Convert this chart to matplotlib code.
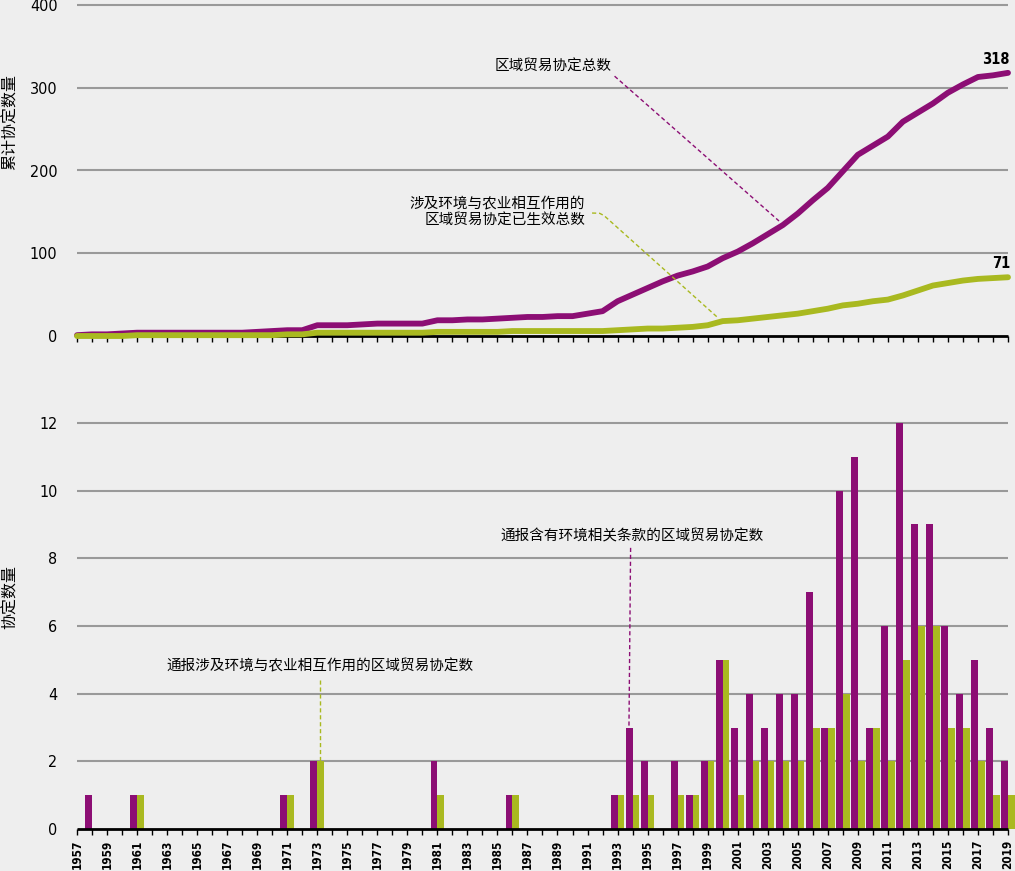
import matplotlib
matplotlib.use("Agg")
import matplotlib.pyplot as plt

plt.rcParams['font.family'] = ['Noto Sans CJK SC', 'DejaVu Sans']

years = list(range(1957, 2020))

# Cumulative totals (top chart)
total_rta = [1, 2, 2, 3, 4, 4, 4, 4, 4, 4, 4, 4, 5, 6, 7, 7, 13, 13, 13, 14,
             15, 15, 15, 15, 19, 19, 20, 20, 21, 22, 23, 23, 24, 24, 27, 30,
             42, 50, 58, 66, 73, 78, 84, 94, 102, 112, 123, 134, 148, 164,
             179, 199, 219, 230, 241, 259, 270, 281, 294, 304, 313, 315, 318]
agri_rta_cum = [0, 0, 0, 0, 1, 1, 1, 1, 1, 1, 1, 1, 1, 1, 2, 2, 4, 4, 4, 4,
                4, 4, 4, 4, 5, 5, 5, 5, 5, 6, 6, 6, 6, 6, 6, 6,
                7, 8, 9, 9, 10, 11, 13, 18, 19, 21, 23, 25, 27, 30,
                33, 37, 39, 42, 44, 49, 55, 61, 64, 67, 69, 70, 71]

# Annual counts (bottom chart)
env_rta = [0, 1, 0, 0, 1, 0, 0, 0, 0, 0, 0, 0, 0, 0, 1, 0, 2, 0, 0, 0,
           0, 0, 0, 0, 2, 0, 0, 0, 0, 1, 0, 0, 0, 0, 0, 0,
           1, 3, 2, 0, 2, 1, 2, 5, 3, 4, 3, 4, 4, 7,
           3, 10, 11, 3, 6, 12, 9, 9, 6, 4, 5, 3, 2]
agri_rta = [0, 0, 0, 0, 1, 0, 0, 0, 0, 0, 0, 0, 0, 0, 1, 0, 2, 0, 0, 0,
            0, 0, 0, 0, 1, 0, 0, 0, 0, 1, 0, 0, 0, 0, 0, 0,
            1, 1, 1, 0, 1, 1, 2, 5, 1, 2, 2, 2, 2, 3,
            3, 4, 2, 3, 2, 5, 6, 6, 3, 3, 2, 1, 1]

top_yticks = [0, 100, 200, 300, 400]
bot_yticks = [0, 2, 4, 6, 8, 10, 12]
label_years = [y for y in years if (y - 1957) % 2 == 0]

PURPLE = '#8C0E74'
GREEN = '#A9B920'
BG = '#EEEEEE'
GRID = '#999999'
NUMFONT = ['DejaVu Sans']

W, H = 1015, 871
fig = plt.figure(figsize=(W / 100, H / 100), dpi=100, facecolor=BG)

def px_axes(l, r, t, b):
    return [l / W, 1 - b / H, (r - l) / W, (b - t) / H]

# ---------- Top chart ----------
ax1 = fig.add_axes(px_axes(77, 1008, 5, 336))
ax1.set_facecolor(BG)
ax1.set_xlim(1957, 2019)
ax1.set_ylim(0, 400)
for s in ax1.spines.values():
    s.set_visible(False)
ax1.hlines(top_yticks[1:], 1957, 2019, color=GRID, lw=1.5, zorder=1, clip_on=False)
ax1.hlines(0, 1957, 2019, color='black', lw=2, zorder=2, clip_on=False)
ax1.plot(years, agri_rta_cum, color=GREEN, lw=4.2, solid_capstyle='round',
         solid_joinstyle='round', zorder=4, clip_on=False)
ax1.plot(years, total_rta, color=PURPLE, lw=4.2, solid_capstyle='round',
         solid_joinstyle='round', zorder=3, clip_on=False)
ax1.set_xticks(years)
ax1.set_xticklabels([])
ax1.tick_params(axis='x', length=4, width=1, color='black', direction='out')
ax1.set_yticks(top_yticks)
ax1.set_yticklabels([str(v) for v in top_yticks], family=NUMFONT, fontsize=11.5,
                    fontstretch='condensed')
ax1.tick_params(axis='y', length=0, pad=14)

fig.text(1010 / W, 1 - 60 / H, str(total_rta[-1]), ha='right', va='center',
         fontsize=10.5, fontweight='bold', family=NUMFONT, fontstretch='condensed')
fig.text(1010 / W, 1 - 264 / H, str(agri_rta_cum[-1]), ha='right', va='center',
         fontsize=10.5, fontweight='bold', family=NUMFONT, fontstretch='condensed')

ax1.text(1988.7, 326, '区域贸易协定总数', ha='center', va='center', fontsize=10.5)
ax1.plot([1992.8, 2003.75], [314, 139], color=PURPLE, lw=1, ls=(0, (3, 2)), zorder=5)

ax1.text(1990.83, 150, '涉及环境与农业相互作用的\n区域贸易协定已生效总数', ha='right',
         va='center', fontsize=10.5, linespacing=1.25)
ax1.plot([1991.3, 1991.8, 1992.1, 1999.7], [148.6, 148.3, 145.5, 21.8],
         color=GREEN, lw=1, ls=(0, (3, 2)), zorder=5)

fig.text(10 / W, 1 - 122 / H, '累计协定数量', rotation=90, ha='center', va='center',
         fontsize=11.5)

# ---------- Bottom chart ----------
ax2 = fig.add_axes(px_axes(77, 1015, 423, 829))
ax2.set_facecolor(BG)
ax2.set_xlim(1957, 2019.47)
ax2.set_ylim(0, 12)
for s in ax2.spines.values():
    s.set_visible(False)
ax2.hlines(bot_yticks[1:], 1957, 2019, color=GRID, lw=1.5, zorder=1, clip_on=False)
bw = 0.45
ax2.bar([y - bw / 2 for y in years], env_rta, width=bw, color=PURPLE, zorder=3,
        clip_on=False, linewidth=0)
ax2.bar([y + bw / 2 for y in years], agri_rta, width=bw, color=GREEN, zorder=3,
        clip_on=False, linewidth=0)
ax2.hlines(0, 1957, 2019, color='black', lw=2, zorder=4, clip_on=False)
ax2.set_xticks(years, minor=True)
ax2.set_xticks(label_years)
ax2.set_xticklabels([str(y) for y in label_years], rotation=90, family=NUMFONT,
                    fontsize=8.5, fontweight='bold', fontstretch='condensed')
ax2.tick_params(axis='x', which='both', length=4, width=1, color='black',
                direction='out', pad=3.5)
ax2.set_yticks(bot_yticks)
ax2.set_yticklabels([str(v) for v in bot_yticks], family=NUMFONT, fontsize=11.5,
                    fontstretch='condensed')
ax2.tick_params(axis='y', length=0, pad=14)

ax2.text(1993.96, 8.66, '通报含有环境相关条款的区域贸易协定数', ha='center', va='center',
         fontsize=10.5)
ax2.plot([1993.87, 1993.76], [8.31, 3.02], color=PURPLE, lw=1, ls=(0, (3, 2)), zorder=5)

ax2.text(1973.18, 4.82, '通报涉及环境与农业相互作用的区域贸易协定数', ha='center',
         va='center', fontsize=10.5)
ax2.plot([1973.18, 1973.18], [4.40, 2.01], color=GREEN, lw=1, ls=(0, (3, 2)), zorder=5)

fig.text(10 / W, 1 - 597 / H, '协定数量', rotation=90, ha='center', va='center',
         fontsize=11.5)

fig.savefig('out.png', dpi=100, facecolor=BG)
